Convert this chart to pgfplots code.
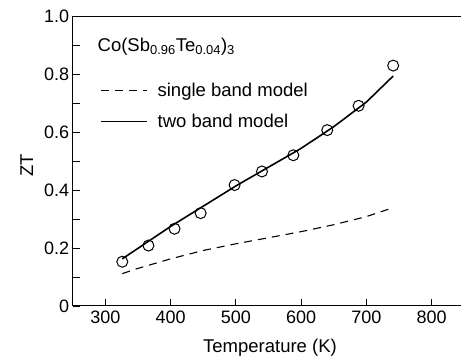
\documentclass[border=0pt]{standalone}
\usepackage{pgfplots}
\pgfplotsset{compat=1.18}
\usepackage{fontspec}
\setmainfont{Liberation Sans}
\begin{document}
\begin{tikzpicture}
\useasboundingbox (-72.7pt,-55pt) rectangle (388.3pt,306pt);
\begin{axis}[
  at={(0,0)}, anchor=south west,
  scale only axis,
  width=404.7pt, height=289.3pt,
  xmin=250, xmax=870, ymin=0, ymax=1.0,
  xtick={300,400,500,600,700,800},
  ytick={0,0.2,0.4,0.6,0.8,1.0},
  yticklabels={0,0.2,0.4,0.6,0.8,1.0},
  minor ytick={0.1,0.3,0.5,0.7,0.9},
  xtick pos=bottom, ytick pos=left,
  major tick length=7pt, minor tick length=7pt,
  axis line style={line width=1pt},
  tick style={line width=0.9pt, black},
  /pgf/number format/assume math mode=true,
  ticklabel style={font=\fontsize{18}{21}\selectfont},
  xticklabel style={yshift=-1pt},
  every axis x label/.style={at={(rel axis cs:0.4875,0)},anchor=center,yshift=-42pt},
  label style={font=\fontsize{18.5}{22}\selectfont},
  xlabel={Temperature (K)},
  legend style={draw=none, fill=none, at={(rel axis cs:0.067,0.778)}, anchor=north west,
    font=\fontsize{18.5}{22}\selectfont, row sep=12pt, inner sep=0pt,
    /tikz/every even column/.append style={column sep=0pt}},
  legend cell align=left,
  legend image code/.code={\draw[#1] (0pt,0pt) -- (46pt,0pt);},
  clip=false,
]
\addplot[black, line width=1.1pt, dash pattern=on 8pt off 6pt] coordinates {
(326,0.112) (350,0.130) (400,0.163) (450,0.192) (500,0.215) (550,0.236) (600,0.257) (650,0.281) (700,0.309) (741,0.340)};
\addlegendentry{\hspace{8pt}single band model}
\addplot[black, line width=1.6pt] coordinates {
(326,0.163) (400,0.275) (450,0.345) (500,0.415) (550,0.480) (600,0.545) (650,0.620) (700,0.705) (741,0.795)};
\addlegendentry{\hspace{8pt}two band model}
\addplot[only marks, mark=o, mark size=5.5pt, black, line width=1pt, forget plot] coordinates {
(326,0.153) (366,0.209) (406,0.267) (446,0.321) (498,0.418) (540,0.465) (588,0.521) (640,0.608) (688,0.692) (741,0.831)};
\node[anchor=west, font=\fontsize{18.5}{22}\selectfont] at (rel axis cs:0.053,0.895) {Co(Sb\textsubscript{0.96}Te\textsubscript{0.04})\textsubscript{3}};
\node[rotate=90, anchor=center, font=\fontsize{18.5}{22}\selectfont] at ([xshift=-46pt]rel axis cs:0,0.487) {ZT};
\end{axis}
\end{tikzpicture}
\end{document}
